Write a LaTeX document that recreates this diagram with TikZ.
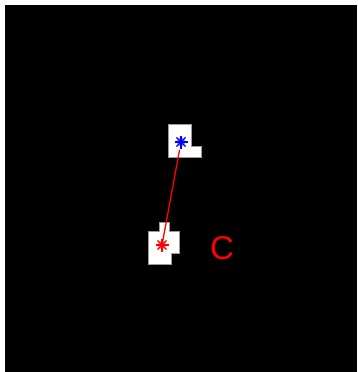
\documentclass[tikz,border=0pt]{standalone}
\usepackage{fontspec}
\usepackage{tikz}
\newfontfamily\labelfont{Liberation Sans}
\definecolor{spotblue}{HTML}{0000FF}
\definecolor{spotred}{HTML}{FF0000}
\definecolor{blobedge}{HTML}{9A9A9A}

\begin{document}
\begin{tikzpicture}[x=1pt,y=-1pt,
      blob/.style={fill=white,draw=blobedge,line width=0.8pt},
      starmark/.style={circle,minimum size=15pt,inner sep=0pt,
                       path picture={\fill[#1,opacity=0.35] (path picture bounding box.center) circle (4.5pt);
                         \foreach \a in {0,45,...,315}
                           \draw[#1,line width=1.4pt] (path picture bounding box.center) -- ++(\a:6.5pt);}},
      link/.style={spotred,line width=1.3pt}]
    \useasboundingbox[fill=white] (0,0) rectangle (357,372);
    \fill[black] (5,5) rectangle (357,372);
    % the two white regions
    \draw[blob] (168,124) -- (191,124) -- (191,146) -- (201,146) -- (201,157) -- (168,157) -- cycle;
    \draw[blob] (159,222) -- (169,222) -- (169,231) -- (179,231) -- (179,253) -- (171,253)
      -- (171,264) -- (148,264) -- (148,231) -- (159,231) -- cycle;
    % centres
    \node[starmark=spotblue] (top) at (181,142) {};
    \node[starmark=spotred] (bot) at (162,245) {};
    \draw[link] (top) -- (bot.center);
    \node[text=spotred,font=\labelfont\fontsize{33}{36}\selectfont,inner sep=0pt] (lab) at (222,248) {C};
  \end{tikzpicture}
\end{document}
